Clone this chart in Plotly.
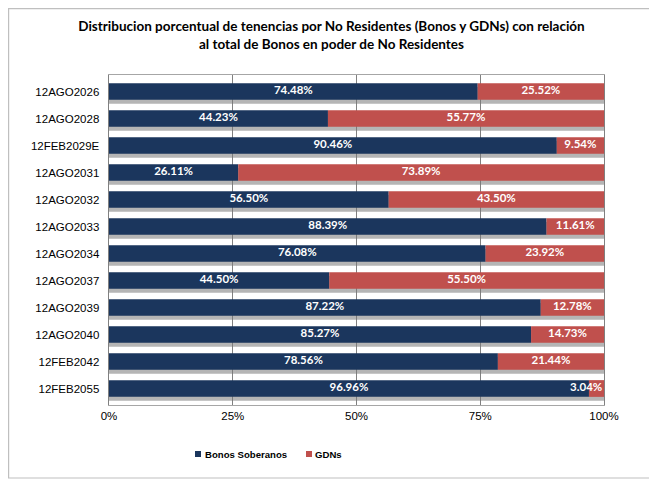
"""
Distribucion porcentual de tenencias por No Residentes (Bonos y GDNs)
Horizontal 100% stacked bars, recreated with plotly.
"""
import plotly.graph_objects as go

BONDS = ["12AGO2026", "12AGO2028", "12FEB2029E", "12AGO2031", "12AGO2032", "12AGO2033",
         "12AGO2034", "12AGO2037", "12AGO2039", "12AGO2040", "12FEB2042", "12FEB2055"]
SOBERANOS = [74.48, 44.23, 90.46, 26.11, 56.50, 88.39, 76.08, 44.50, 87.22, 85.27, 78.56, 96.96]
GDNS = [25.52, 55.77, 9.54, 73.89, 43.50, 11.61, 23.92, 55.50, 12.78, 14.73, 21.44, 3.04]
X_TICKS = [0, 25, 50, 75, 100]
X_TICK_TEXT = ["0%", "25%", "50%", "75%", "100%"]
SERIES = ["Bonos Soberanos", "GDNs"]

NAVY = "#1B365D"
RED = "#C0504D"
SANS = "Liberation Sans, Arial, sans-serif"
LABEL_FONT = dict(family="Lato, Open Sans, sans-serif", size=11.5, color="white", weight="bold")

BAR_W = 0.62
W, H = 657, 483
PAGE = 8  # the html body margin shifts the figure by 8px
L, T = 109 - PAGE, 75 - PAGE
R, B = W - (604 - PAGE), H - (405 - PAGE)
PW, PH = W - L - R, H - T - B


def px_x(x):
    # page pixel -> paper fraction
    return (x - PAGE - L) / PW


def px_y(y):
    return (H - B - (y - PAGE)) / PH


fig = go.Figure()

# soft drop shadow under each bar
fig.add_trace(go.Bar(
    y=BONDS, x=[s + g for s, g in zip(SOBERANOS, GDNS)], orientation="h",
    width=BAR_W, offset=-BAR_W / 2 + 0.14,
    marker=dict(color="rgba(120,120,120,0.55)", line_width=0),
    hoverinfo="skip", showlegend=False,
))
fig.add_trace(go.Bar(
    name=SERIES[0], y=BONDS, x=SOBERANOS, orientation="h",
    width=BAR_W, offset=-BAR_W / 2, marker=dict(color=NAVY, line_width=0),
    showlegend=False,
))
fig.add_trace(go.Bar(
    name=SERIES[1], y=BONDS, x=GDNS, base=SOBERANOS, orientation="h",
    width=BAR_W, offset=-BAR_W / 2, marker=dict(color=RED, line_width=0),
    showlegend=False,
))

# value labels centred in each segment (clamped inside the plot like Excel does)
lab_x, lab_y, lab_t = [], [], []
for name, s, g in zip(BONDS, SOBERANOS, GDNS):
    lab_x += [s / 2, min(s + g / 2, 96.4)]
    lab_y += [name, name]
    lab_t += [f"{s:.2f}%", f"{g:.2f}%"]
fig.add_trace(go.Scatter(
    x=lab_x, y=lab_y, text=lab_t, mode="text", textfont=LABEL_FONT,
    textposition="middle center", showlegend=False, hoverinfo="skip",
))

# outer chart frame
fig.add_shape(type="rect", xref="paper", yref="paper",
              x0=px_x(8.6), x1=px_x(651), y0=px_y(478), y1=px_y(8.6),
              line=dict(color="#BFBFBF", width=1.2), layer="below")

# compact Excel-style legend
for (mx, tx), name, col in zip([(195, 203), (306, 313)], SERIES, [NAVY, RED]):
    fig.add_shape(type="rect", xref="paper", yref="paper",
                  x0=px_x(mx), x1=px_x(mx + 6), y0=px_y(457), y1=px_y(451),
                  fillcolor=col, line_width=0)
    fig.add_annotation(xref="paper", yref="paper", x=px_x(tx), y=px_y(454),
                       xanchor="left", yanchor="middle", showarrow=False, text=name,
                       font=dict(family=SANS, size=9.6, color="black", weight="bold"))

fig.update_layout(
    width=W, height=H, barmode="overlay",
    paper_bgcolor="white", plot_bgcolor="white",
    margin=dict(l=L, r=R, t=T, b=B, autoexpand=False),
    title=dict(
        text="Distribucion porcentual de tenencias por No Residentes (Bonos y GDNs) con relación<br>"
             "al total de Bonos en poder de No Residentes",
        x=(331.5 - PAGE) / W, xref="container", xanchor="center", y=0.952, yanchor="top",
        font=dict(family="Lato, Open Sans, sans-serif", size=13.5, color="black", weight="bold"),
    ),
    font=dict(family=SANS, size=11.5, color="black"),
    showlegend=False,
)
fig.update_xaxes(range=[0, 100], tickvals=X_TICKS, ticktext=X_TICK_TEXT, automargin=False,
                 showgrid=True, gridcolor="#808080", gridwidth=1, zeroline=False,
                 showline=True, linecolor="#A6A6A6", mirror=True, ticks="", ticklen=0)
fig.update_yaxes(autorange="reversed", showgrid=False, showline=True, linecolor="#808080",
                 mirror=True, ticks="", ticksuffix="  ", automargin=False)

fig.write_html("out.html")
